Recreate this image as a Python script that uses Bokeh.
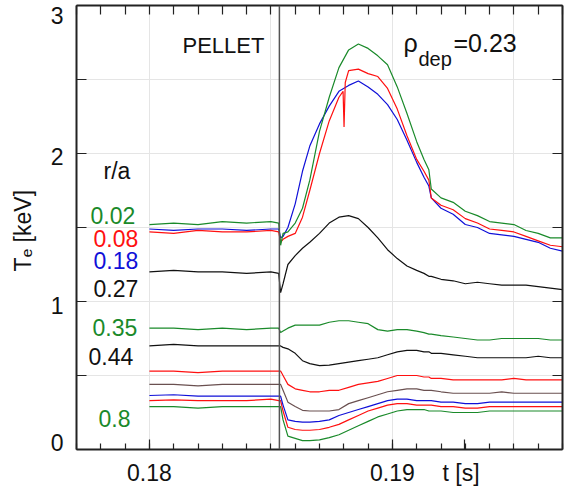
from bokeh.plotting import figure
from bokeh.models import (Range1d, LinearAxis, FixedTicker, Label, Span,
                          CustomJSTickFormatter)
from bokeh.embed import file_html
from bokeh.resources import INLINE

# ---------------- data ----------------
t_s = [0.1800, 0.1810, 0.1820, 0.1830, 0.1840, 0.1850, 0.18532, 0.18540,
       0.18550, 0.18570, 0.18600, 0.18630, 0.18660, 0.18700, 0.18740, 0.18780,
       0.18820, 0.18860, 0.18900, 0.18940, 0.18980, 0.19020, 0.19060, 0.19100,
       0.19130, 0.19150, 0.19160, 0.19200, 0.19250, 0.19300, 0.19350, 0.19400,
       0.19450, 0.19500, 0.19550, 0.19600, 0.19650, 0.19700]

# the r/a = 0.08 trace has a short downward spike near t = 0.1880
t_008 = [0.1800, 0.1810, 0.1820, 0.1830, 0.1840, 0.1850, 0.18532, 0.18540,
         0.18550, 0.18570, 0.18600, 0.18630, 0.18660, 0.18700, 0.18740, 0.18780,
         0.18797, 0.18801, 0.18806,
         0.18820, 0.18860, 0.18900, 0.18940, 0.18980, 0.19020, 0.19060, 0.19100,
         0.19130, 0.19150, 0.19160, 0.19200, 0.19250, 0.19300, 0.19350, 0.19400,
         0.19450, 0.19500, 0.19550, 0.19600, 0.19650, 0.19700]

te_002 = [1.52, 1.53, 1.52, 1.54, 1.53, 1.54, 1.53, 1.38,
          1.46, 1.47, 1.53, 1.63, 1.82, 2.15, 2.38, 2.58,
          2.70, 2.74, 2.71, 2.66, 2.60, 2.45, 2.27, 2.08,
          1.96, 1.89, 1.76, 1.70, 1.67, 1.61, 1.58, 1.54,
          1.53, 1.52, 1.48, 1.46, 1.43, 1.43]
te_008 = [1.47, 1.46, 1.48, 1.47, 1.47, 1.48, 1.47, 1.40,
          1.42, 1.44, 1.46, 1.57, 1.75, 2.00, 2.22, 2.38,
          2.42, 2.18, 2.48,
          2.56, 2.57, 2.54, 2.52, 2.44, 2.30, 2.12, 1.96,
          1.88, 1.82, 1.70, 1.65, 1.62, 1.56, 1.53, 1.49,
          1.48, 1.47, 1.44, 1.41, 1.38, 1.37]
te_018 = [1.49, 1.48, 1.49, 1.49, 1.48, 1.49, 1.49, 1.43,
          1.44, 1.50, 1.66, 1.88, 2.05, 2.20, 2.32, 2.42,
          2.46, 2.49, 2.45, 2.40, 2.33, 2.23, 2.09, 1.94,
          1.84, 1.78, 1.70, 1.63, 1.59, 1.52, 1.50, 1.46,
          1.45, 1.44, 1.42, 1.40, 1.36, 1.34]
te_027 = [1.20, 1.21, 1.20, 1.20, 1.19, 1.20, 1.19, 1.06,
          1.12, 1.25, 1.31, 1.36, 1.40, 1.46, 1.53, 1.57,
          1.58, 1.56, 1.50, 1.43, 1.35, 1.29, 1.24, 1.21,
          1.19, 1.17, 1.17, 1.15, 1.14, 1.12, 1.13, 1.12,
          1.11, 1.11, 1.11, 1.10, 1.09, 1.08]
te_035 = [0.82, 0.82, 0.81, 0.82, 0.81, 0.82, 0.82, 0.79,
          0.80, 0.82, 0.84, 0.84, 0.84, 0.84, 0.86, 0.87,
          0.87, 0.86, 0.85, 0.81, 0.80, 0.81, 0.81, 0.80,
          0.79, 0.78, 0.78, 0.77, 0.76, 0.75, 0.74, 0.74,
          0.75, 0.75, 0.75, 0.75, 0.74, 0.74]
te_044 = [0.70, 0.71, 0.70, 0.70, 0.70, 0.70, 0.70, 0.70,
          0.69, 0.68, 0.65, 0.60, 0.58, 0.567, 0.57, 0.58,
          0.59, 0.60, 0.61, 0.62, 0.64, 0.66, 0.67, 0.67,
          0.66, 0.66, 0.65, 0.65, 0.64, 0.63, 0.62, 0.62,
          0.62, 0.62, 0.62, 0.63, 0.62, 0.62]
te_r1 = [0.53, 0.53, 0.52, 0.53, 0.53, 0.53, 0.53, 0.53,
         0.50, 0.44, 0.41, 0.40, 0.39, 0.39, 0.40, 0.40,
         0.42, 0.44, 0.45, 0.46, 0.48, 0.50, 0.50, 0.50,
         0.49, 0.49, 0.48, 0.48, 0.47, 0.47, 0.47, 0.47,
         0.47, 0.48, 0.47, 0.47, 0.47, 0.47]
te_br = [0.44, 0.44, 0.43, 0.44, 0.44, 0.44, 0.44, 0.44,
         0.40, 0.32, 0.29, 0.265, 0.26, 0.26, 0.26, 0.27,
         0.31, 0.33, 0.35, 0.37, 0.39, 0.40, 0.41, 0.41,
         0.40, 0.40, 0.40, 0.39, 0.38, 0.38, 0.38, 0.38,
         0.39, 0.38, 0.38, 0.38, 0.38, 0.38]
te_b2 = [0.365, 0.37, 0.36, 0.36, 0.36, 0.36, 0.36, 0.36,
         0.30, 0.20, 0.19, 0.185, 0.185, 0.19, 0.20, 0.23,
         0.25, 0.27, 0.29, 0.31, 0.33, 0.34, 0.34, 0.33,
         0.33, 0.33, 0.33, 0.32, 0.32, 0.31, 0.31, 0.32,
         0.32, 0.32, 0.32, 0.32, 0.32, 0.32]
te_r2 = [0.33, 0.335, 0.33, 0.33, 0.33, 0.34, 0.33, 0.33,
         0.26, 0.15, 0.135, 0.13, 0.13, 0.135, 0.15, 0.17,
         0.20, 0.23, 0.26, 0.28, 0.30, 0.31, 0.31, 0.30,
         0.30, 0.30, 0.30, 0.29, 0.29, 0.28, 0.28, 0.29,
         0.29, 0.29, 0.29, 0.29, 0.29, 0.29]
te_080 = [0.29, 0.29, 0.28, 0.29, 0.29, 0.29, 0.29, 0.29,
          0.20, 0.09, 0.075, 0.06, 0.06, 0.065, 0.08, 0.10,
          0.13, 0.16, 0.19, 0.22, 0.24, 0.26, 0.27, 0.27,
          0.27, 0.26, 0.26, 0.26, 0.25, 0.25, 0.25, 0.26,
          0.26, 0.26, 0.26, 0.26, 0.26, 0.26]

t_pellet = 0.18535
x_tick_labels = ["0.18", "0.19", "t  [s]"]
y_tick_labels = ["0", "1", "2", "3"]
ra_labels = ["0.02", "0.08", "0.18", "0.27", "0.35", "0.44", "0.8"]

# ---------------- styling / positions ----------------
x_label_pos = [0.18, 0.19, 0.19296]          # where the bottom labels sit
y_label_pos = [0.045, 0.975, 1.98, 2.935]    # labels sit slightly inside the frame, as in the picture

GREEN, RED, BLUE, BLACK, BROWN = "#1a8a2a", "#ff1010", "#1010d8", "#111111", "#6a5050"

series = [(t_s, te_080, GREEN), (t_s, te_r2, RED), (t_s, te_b2, BLUE), (t_s, te_br, BROWN),
          (t_s, te_r1, RED), (t_s, te_044, BLACK), (t_s, te_035, GREEN), (t_s, te_027, BLACK),
          (t_s, te_018, BLUE), (t_008, te_008, RED), (t_s, te_002, GREEN)]

FONT = "Liberation Sans"

p = figure(width=570, height=493, x_range=Range1d(0.177, 0.197), y_range=Range1d(0, 3),
           output_backend="svg", toolbar_location=None,
           x_axis_location=None, y_axis_location=None,
           min_border_left=76, min_border_right=8, min_border_top=5, min_border_bottom=44)
p.outline_line_color = None
p.background_fill_color = "white"
p.border_fill_color = "white"

minor_x = [round(0.177 + 0.001 * i, 3) for i in range(21)]
minor_y = [0.5 * i for i in range(7)]


def style(ax, major_in, minor_in):
    ax.axis_line_width = 2
    ax.axis_line_color = "#222222"
    ax.major_tick_in = major_in
    ax.major_tick_out = 0
    ax.minor_tick_in = minor_in
    ax.minor_tick_out = 0
    ax.major_tick_line_color = "#222222"
    ax.minor_tick_line_color = "#222222"
    ax.major_tick_line_width = 1.2
    ax.minor_tick_line_width = 1.2
    ax.major_label_text_font = FONT
    ax.major_label_text_font_size = "23px"
    ax.major_label_text_color = "#111111"
    return ax


bottom = style(LinearAxis(ticker=FixedTicker(ticks=x_label_pos, minor_ticks=minor_x),
                          formatter=CustomJSTickFormatter(args=dict(labs=x_tick_labels),
                                                          code="return labs[index]")), 10, 6)
bottom.major_label_standoff = 10
p.add_layout(bottom, "below")

top = style(LinearAxis(ticker=FixedTicker(ticks=[], minor_ticks=minor_x)), 9, 9)
p.add_layout(top, "above")

left = style(LinearAxis(ticker=FixedTicker(ticks=y_label_pos, minor_ticks=minor_y),
                        formatter=CustomJSTickFormatter(args=dict(labs=y_tick_labels),
                                                        code="return labs[index]")), 0, 10)
left.major_label_standoff = 13
left.axis_label = "T\u2091  [keV]"
left.axis_label_text_font = FONT
left.axis_label_text_font_size = "23px"
left.axis_label_text_font_style = "normal"
left.axis_label_text_color = "#111111"
left.axis_label_standoff = 12
p.add_layout(left, "left")

right = style(LinearAxis(ticker=FixedTicker(ticks=[], minor_ticks=minor_y)), 10, 10)
p.add_layout(right, "right")

for ts, ys, col in series:
    p.line(ts, ys, line_color=col, line_width=1.2)

p.add_layout(Span(location=t_pellet, dimension="height", line_color="#555555", line_width=1.5))

# r/a labels
ra_pos = [(14, 234), (17, 211), (17, 189), (17, 161), (16, 122), (12, 93), (22, 31)]
ra_col = [GREEN, RED, BLUE, BLACK, GREEN, BLACK, GREEN]
for txt, (xs, ys), col in zip(ra_labels, ra_pos, ra_col):
    p.add_layout(Label(x=xs, y=ys, x_units="screen", y_units="screen", text=txt,
                       text_align="left", text_baseline="alphabetic",
                       text_font=FONT, text_font_size="23px", text_color=col))


def lab(x, y, txt, size="23px", color="#111111"):
    p.add_layout(Label(x=x, y=y, x_units="screen", y_units="screen", text=txt,
                       text_align="left", text_baseline="alphabetic",
                       text_font=FONT, text_font_size=size, text_color=color))


lab(27, 279, "r/a")
lab(106, 404, "PELLET", size="22px")
lab(327, 407, "\u03c1", size="25px")
lab(342, 391, "dep", size="20px")
lab(377, 407, "=0.23", size="25px")

open("out.html", "w").write(file_html(p, INLINE))
